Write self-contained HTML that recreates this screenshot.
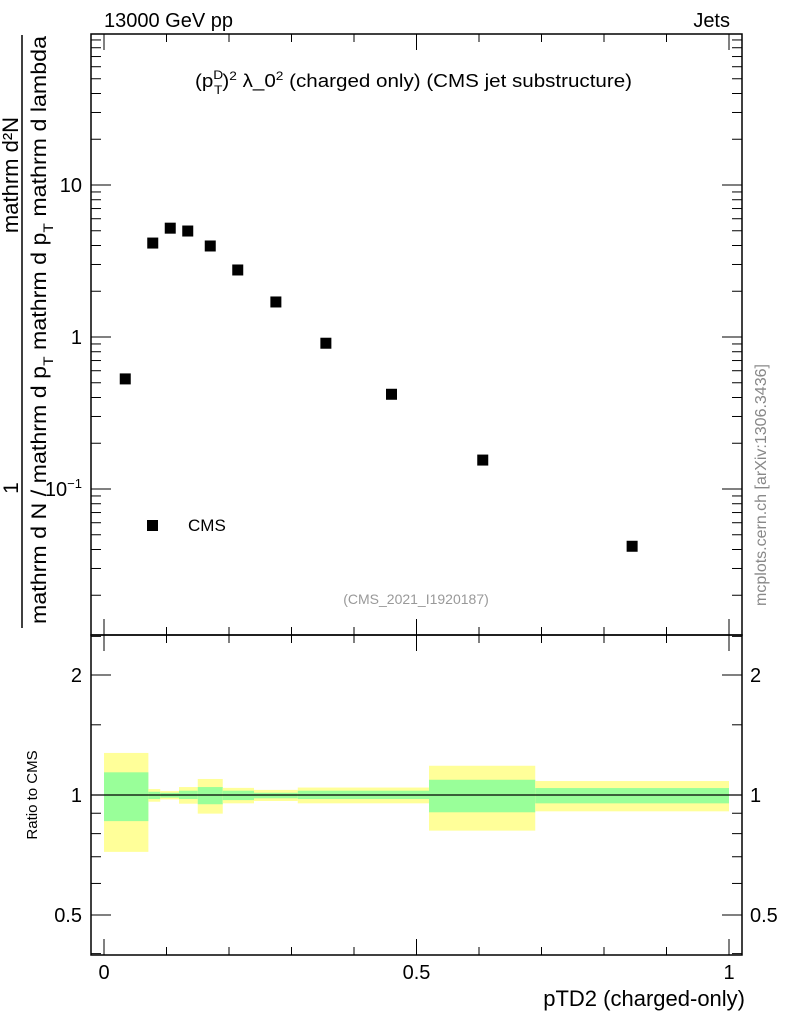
<!DOCTYPE html>
<html><head><meta charset="utf-8"><style>
html,body{margin:0;padding:0;background:#fff;}
svg{display:block;font-family:"Liberation Sans",Arial,sans-serif;}
</style></head><body>
<svg id="c" width="786" height="1024" viewBox="0 0 786 1024" xmlns="http://www.w3.org/2000/svg">
<g id="bands"></g>
<g id="marks"></g>
<g id="ticks" stroke="#000" stroke-width="1"></g>
<rect x="91" y="34" width="651" height="601" fill="none" stroke="#000" stroke-width="1.5"/>
<rect x="91" y="635" width="651" height="320" fill="none" stroke="#000" stroke-width="1.5"/>
<line x1="91" y1="795" x2="742" y2="795" stroke="#000" stroke-width="1.2"/>
<text x="104" y="27" font-size="20">13000 GeV pp</text>
<text x="730" y="27" font-size="20" text-anchor="end">Jets</text>
<text x="195" y="87" font-size="18" textLength="437" lengthAdjust="spacingAndGlyphs">(p<tspan font-size="12" dy="-8">D</tspan><tspan font-size="12" dx="-8" dy="15">T</tspan><tspan dy="-7">)</tspan><tspan font-size="12" dy="-7">2</tspan><tspan dy="7"> λ_0</tspan><tspan font-size="12" dy="-7">2</tspan><tspan dy="7"> (charged only) (CMS jet substructure)</tspan></text>
<text x="416" y="604" font-size="14" fill="#999" text-anchor="middle">(CMS_2021_I1920187)</text>
<rect x="147" y="520" width="11" height="11" fill="#000"/>
<text x="188" y="531" font-size="17">CMS</text>
<text transform="translate(766,485) rotate(-90)" font-size="16" fill="#888" text-anchor="middle">mcplots.cern.ch [arXiv:1306.3436]</text>
<line x1="22" y1="35" x2="22" y2="628" stroke="#000" stroke-width="1.5"/>
<text transform="translate(18,488) rotate(-90)" font-size="21" text-anchor="middle">1</text>
<text transform="translate(18,175) rotate(-90)" font-size="22" text-anchor="middle">mathrm d²N</text>
<text transform="translate(46,330) rotate(-90)" font-size="21" text-anchor="middle" textLength="588" lengthAdjust="spacingAndGlyphs">mathrm d N / mathrm d p<tspan font-size="14" dy="7">T</tspan><tspan dy="-7"> mathrm d p</tspan><tspan font-size="14" dy="7">T</tspan><tspan dy="-7"> mathrm d lambda</tspan></text>
<text transform="translate(37,795) rotate(-90)" font-size="15" text-anchor="middle">Ratio to CMS</text>
<text x="745" y="1006" font-size="22" text-anchor="end">pTD2 (charged-only)</text>
<g id="labels" font-size="20"></g>
</svg>
<script>
const xs=[0.034,0.078,0.106,0.134,0.17,0.214,0.275,0.355,0.46,0.606,0.845];
const ys=[0.53,4.15,5.2,4.98,3.97,2.76,1.70,0.91,0.42,0.155,0.042];
const binEdges=[0,0.071,0.09,0.12,0.15,0.19,0.24,0.31,0.52,0.69,1.0];
const yelUp=[1.275,1.035,1.023,1.047,1.097,1.042,1.03,1.044,1.184,1.084];
const yelDn=[0.72,0.962,0.975,0.951,0.898,0.953,0.966,0.953,0.814,0.910];
const grnUp=[1.14,1.019,1.013,1.025,1.047,1.025,1.013,1.025,1.092,1.041];
const grnDn=[0.86,0.977,0.985,0.977,0.948,0.971,0.981,0.977,0.905,0.953];
const NS='http://www.w3.org/2000/svg';
const X=v=>104+625*v;
const Y=v=>337-152*Math.log10(v);
const R=v=>795-120*Math.log2(v);
function mk(t,a,p){const e=document.createElementNS(NS,t);for(const k in a)e.setAttribute(k,a[k]);p.appendChild(e);return e;}
const bands=document.getElementById('bands');
for(let i=0;i<yelUp.length;i++){
 const x0=X(binEdges[i]),x1=X(binEdges[i+1]);
 const y=mk('rect',{x:x0,y:R(yelUp[i]),width:x1-x0,height:R(yelDn[i])-R(yelUp[i]),fill:'#ffff99'},bands);
 
 
 const g=mk('rect',{x:x0,y:R(grnUp[i]),width:x1-x0,height:R(grnDn[i])-R(grnUp[i]),fill:'#99ff99'},bands);
 
 
}
const marks=document.getElementById('marks');
for(let i=0;i<xs.length;i++){
 const r=mk('rect',{x:X(xs[i])-5.5,y:Y(ys[i])-5.5,width:11,height:11,fill:'#000'},marks);
 
 
}
const tk=document.getElementById('ticks'),lb=document.getElementById('labels');
function ln(x1,y1,x2,y2){mk('line',{x1,y1,x2,y2},tk);}
for(let i=0;i<=10;i++){const v=i/10,x=X(v),L=(i%5==0)?16:8;
 ln(x,635,x,635-L);ln(x,34,x,34+L);ln(x,955,x,955-L);ln(x,635,x,635+L);}
[[0,'0'],[0.5,'0.5'],[1,'1']].forEach(([v,t])=>{const e=mk('text',{x:X(v),y:979,'text-anchor':'middle'},lb);e.textContent=t;});
for(let d=-2;d<=1;d++)for(let m=1;m<=9;m++){const v=m*Math.pow(10,d),y=Y(v);if(y<34||y>635)continue;
 const L=m==1?20:10;ln(91,y,91+L,y);ln(742,y,742-L,y);}
[[10,'10'],[1,'1']].forEach(([v,t])=>{const e=mk('text',{x:82,y:Y(v)+7,'text-anchor':'end'},lb);e.textContent=t;});
const e1=mk('text',{x:82,y:Y(0.1)+7,'text-anchor':'end'},lb);e1.innerHTML='10<tspan font-size="13" dy="-8">−1</tspan>';
[0.4,0.5,0.6,0.7,0.8,0.9,1,1.5,2,2.5].forEach(v=>{const y=R(v);if(y<635||y>955)return;const L=(v==0.5||v==1||v==2)?20:10;ln(91,y,91+L,y);ln(742,y,742-L,y);});
[[2,'2'],[1,'1'],[0.5,'0.5']].forEach(([v,t])=>{let e=mk('text',{x:82,y:R(v)+7,'text-anchor':'end'},lb);e.textContent=t;e=mk('text',{x:750,y:R(v)+7},lb);e.textContent=t;});
</script>
</body></html>
